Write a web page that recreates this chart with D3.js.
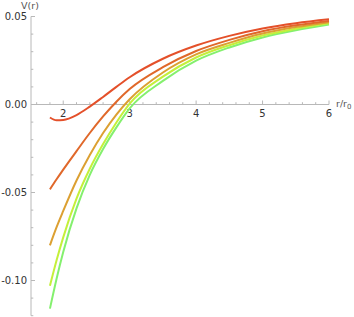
<!DOCTYPE html>
<html><head><meta charset="utf-8">
<script src="https://cdn.jsdelivr.net/npm/d3@7"></script>
<style>body{margin:0;background:#fff}svg{display:block}</style>
</head><body><svg id="c" width="354" height="317"></svg>
<script>
const rValues = [1.8, 1.9, 2.0, 2.2, 2.4, 2.6, 2.8, 3.0, 3.5, 4.0, 4.5, 5.0, 5.5, 6.0];
const seriesRed    = [-0.0074, -0.0090, -0.0088, -0.0060, -0.0012, 0.0043, 0.0100, 0.0155, 0.0260, 0.0335, 0.0390, 0.0432, 0.0462, 0.0484];
const seriesOrange = [-0.0482, -0.0425, -0.0370, -0.0265, -0.0162, -0.0068, 0.0016, 0.0088, 0.0212, 0.0304, 0.0367, 0.0416, 0.0450, 0.0475];
const seriesGold   = [-0.0800, -0.0697, -0.0605, -0.0432, -0.0287, -0.0162, -0.0057, 0.0030, 0.0182, 0.0285, 0.0350, 0.0403, 0.0440, 0.0468];
const seriesLime   = [-0.1030, -0.0885, -0.0755, -0.0535, -0.0365, -0.0225, -0.0102, 0.0005, 0.0158, 0.0267, 0.0337, 0.0392, 0.0431, 0.0461];
const seriesGreen  = [-0.1160, -0.0990, -0.0838, -0.0590, -0.0400, -0.0253, -0.0130, -0.0022, 0.0134, 0.0249, 0.0324, 0.0381, 0.0422, 0.0454];
const seriesList = [seriesGreen, seriesLime, seriesGold, seriesOrange, seriesRed];
const seriesColors = ["#84f06e", "#c4f03a", "#dca032", "#e0682a", "#e4502a"];
const xTicks = [2, 3, 4, 5, 6];
const yTicks = [0.05, 0.00, -0.05, -0.10];
const yTickLabels = ["0.05", "0.00", "-0.05", "-0.10"];

const svg = d3.select("#c");
const x = d3.scaleLinear().domain([1.515, 6]).range([31, 329]);
const y = d3.scaleLinear().domain([0.05, -0.12]).range([16.5, 315.7]);
const axisColor = "#b8b8b8";
const textColor = "#333";

// x axis (at y=0)
const xAxisG = svg.append("g").attr("transform", `translate(0,${y(0)})`);
xAxisG.append("line").attr("x1", x.range()[0]).attr("x2", x.range()[1])
  .attr("stroke", axisColor).attr("stroke-width", 1);
const xMinor = d3.range(8, 31).map(v => v / 5);
xAxisG.selectAll("line.mt").data(xMinor).join("line").attr("class","mt")
  .attr("x1", d => x(d)).attr("x2", d => x(d))
  .attr("y1", 0).attr("y2", d => Number.isInteger(d) ? -4 : -2.3)
  .attr("stroke", axisColor).attr("stroke-width", 1);
xAxisG.selectAll("text").data(xTicks).join("text")
  .attr("x", d => x(d)).attr("y", 12.5)
  .attr("text-anchor", "middle").attr("font-family", "DejaVu Sans, sans-serif")
  .attr("font-size", 10).attr("fill", textColor).text(d => d);

// y axis
const yAxisG = svg.append("g").attr("transform", `translate(${x.range()[0]},0)`);
yAxisG.append("line").attr("y1", y(0.05)).attr("y2", y.range()[1])
  .attr("stroke", axisColor).attr("stroke-width", 1);
const yMinor = d3.range(-12, 6).map(v => v / 100);
yAxisG.selectAll("line.mt").data(yMinor).join("line").attr("class","mt")
  .attr("x1", 0).attr("x2", d => (Math.round(d*100) % 5 === 0) ? 4 : 2.3)
  .attr("y1", d => y(d)).attr("y2", d => y(d))
  .attr("stroke", axisColor).attr("stroke-width", 1);
yAxisG.selectAll("text").data(yTicks).join("text")
  .attr("x", -4).attr("y", d => y(d) + 3.8)
  .attr("text-anchor", "end").attr("font-family", "DejaVu Sans, sans-serif")
  .attr("font-size", 10).attr("fill", textColor)
  .text((d, i) => yTickLabels[i]);

// axis labels
svg.append("text").attr("x", 30).attr("y", 9).attr("text-anchor", "middle")
  .attr("font-family", "DejaVu Sans, sans-serif").attr("font-size", 9.5)
  .attr("fill", "#555").text("V(r)");
const xl = svg.append("text").attr("x", 336).attr("y", 107)
  .attr("font-family", "DejaVu Sans, sans-serif").attr("font-size", 9.5).attr("fill", "#555");
xl.append("tspan").text("r/r");
xl.append("tspan").attr("font-size", 7).attr("dy", 2).text("0");

// curves
const line = d3.line().x((d, i) => x(rValues[i])).y(d => y(d)).curve(d3.curveMonotoneX);
svg.append("g").selectAll("path").data(seriesList).join("path")
  .attr("d", d => line(d)).attr("fill", "none")
  .attr("stroke", (d, i) => seriesColors[i]).attr("stroke-width", 2);
</script></body></html>
